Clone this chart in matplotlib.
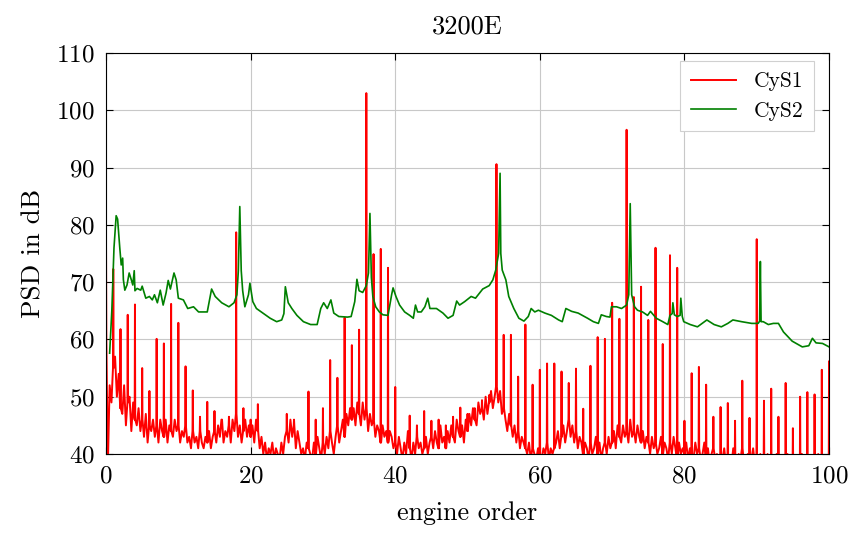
import numpy as np
import matplotlib
matplotlib.use("Agg")
from matplotlib import pyplot as plt

plt.rcParams['font.family'] = 'serif'
plt.rcParams['font.serif'] = ['cmr10']
plt.rcParams['mathtext.fontset'] = 'cm'
plt.rcParams['axes.formatter.use_mathtext'] = True

title = "3200E"
x_label = "engine order"
y_label = "PSD in dB"
names = ["CyS1", "CyS2"]

# CyS1: noise floor sampled every 0.25 orders (rows of 5 orders)
s1_step = 0.25
s1_floor = [
    60, 38, 52, 49, 55, 57, 50, 54, 48, 47, 52, 45, 49, 50, 44, 49, 46, 45, 48, 44,
    46, 43, 47, 42, 45, 44, 46, 43, 45, 42, 46, 44, 43, 46, 42, 45, 44, 43, 46, 44,
    45, 42, 44, 43, 45, 42, 43, 41, 44, 42, 43, 41, 44, 42, 41, 43, 42, 44, 41, 43,
    44, 42, 45, 43, 46, 42, 44, 43, 45, 42, 46, 44, 47, 43, 45, 42, 44, 46, 43, 45,
    43, 45, 42, 46, 44, 41, 43, 40, 42, 39, 41, 40, 42, 39, 41, 40, 39, 42, 40, 43,
    44, 42, 46, 43, 45, 41, 44, 42, 40, 41, 39, 42, 41, 40, 39, 42, 40, 43, 41, 39,
    42, 40, 43, 41, 44, 42, 40, 43, 45, 42, 44, 46, 43, 47, 45, 48, 46, 48, 45, 49,
    47, 45, 49, 46, 48, 44, 47, 45, 46, 43, 45, 44, 42, 45, 43, 44, 42, 44, 43, 41,
    42, 40, 43, 41, 39, 42, 40, 44, 41, 39, 42, 40, 43, 41, 42, 40, 41, 43, 40, 42,
    43, 41, 44, 42, 41, 45, 42, 43, 41, 44, 42, 45, 43, 42, 46, 44, 43, 45, 42, 46,
    44, 47, 45, 48, 46, 45, 49, 47, 48, 46, 50, 47, 49, 51, 48, 50, 52, 49, 51, 47,
    48, 46, 44, 47, 45, 43, 45, 42, 44, 41, 43, 42, 41, 40, 42, 39, 41, 40, 39, 41,
    40, 39, 41, 40, 42, 39, 41, 40, 41, 42, 44, 41, 43, 45, 42, 44, 46, 43, 45, 42,
    44, 41, 43, 42, 40, 42, 41, 39, 42, 40, 41, 43, 40, 42, 39, 41, 42, 40, 43, 41,
    42, 44, 41, 45, 43, 42, 45, 43, 44, 42, 46, 43, 44, 42, 45, 43, 42, 44, 41, 43,
    42, 40, 43, 41, 42, 40, 41, 43, 40, 42, 41, 39, 42, 40, 43, 41, 39, 42, 40, 41,
    40, 42, 39, 41, 40, 39, 42, 40, 41, 39, 40, 42, 39, 41, 38, 40, 41, 39, 40, 38,
    40, 39, 41, 38, 40, 39, 38, 41, 39, 38, 40, 39, 41, 38, 39, 40, 38, 39, 41, 38,
    39, 38, 40, 37, 39, 38, 40, 37, 38, 39, 37, 40, 38, 37, 39, 38, 37, 40, 38, 37,
    38, 37, 39, 38, 37, 40, 38, 37, 39, 38, 37, 39, 38, 37, 40, 38, 37, 39, 38, 37,
    38,
]

# CyS1: engine-order harmonic lines (order, peak dB)
s1_orders = [0, 1, 2, 3, 4, 5, 6, 7, 8, 9, 10, 11, 12, 13, 14, 15, 16, 17, 18, 19,
             20, 21, 25, 26, 28, 29, 30, 31, 32, 33, 34, 35, 36, 37, 38, 39, 40,
             42, 43, 44, 45, 46, 47, 48, 49, 50, 51, 52, 53, 54, 55, 56, 57, 58, 59,
             60, 61, 62, 63, 64, 65, 66, 67, 68, 69, 70, 71, 72, 73, 74, 75, 76, 77,
             78, 79, 80, 81, 82, 83, 84, 85, 86, 87, 88, 89, 90, 91, 92, 93, 94, 95,
             96, 97, 98, 99, 100]
s1_peaks = [76.0, 72.3, 61.8, 64.3, 66.1, 55.0, 51.0, 60.1, 59.3, 66.2, 62.9, 55.3,
            51.1, 46.5, 49.1, 47.5, 46.0, 46.5, 78.7, 48.0,
            46.0, 48.7, 47.0, 46.0, 50.9, 46.0, 48.0, 56.4, 53.3, 63.8, 59.0, 61.7,
            103.0, 74.9, 75.8, 72.5, 51.7,
            46.7, 45.0, 47.5, 45.8, 46.0, 45.0, 46.5, 48.1, 47.0, 48.0, 49.4, 50.3,
            90.6, 60.8, 60.8, 53.5, 62.6, 52.1,
            54.7, 55.8, 55.8, 54.4, 52.4, 54.9, 47.9, 55.4, 60.4, 60.1, 66.4, 63.6,
            96.6, 67.4, 69.2, 63.4, 76.0, 59.2,
            74.7, 72.5, 45.8, 54.1, 55.2, 52.1, 46.5, 48.2, 48.9, 45.8, 52.8, 46.3,
            77.5, 49.3, 51.4, 46.5, 52.4, 44.5,
            50.0, 50.8, 50.4, 54.7, 56.2]

# CyS2 (order, dB)
s2_x = [0.5, 0.8, 1.1, 1.4, 1.6, 1.9, 2.1, 2.3, 2.4, 2.6, 2.9, 3.2, 3.5, 3.7, 3.9,
        4.0, 4.3, 4.8, 5.0, 5.5, 6.0, 6.4, 6.7, 7.1, 7.5, 7.9, 8.3, 8.6, 8.9, 9.4,
        9.7, 10.0, 10.7, 11.3, 12.1, 12.8, 14.0, 14.6, 15.1, 16.0, 17.0, 17.7, 18.1,
        18.3, 18.5, 18.7, 18.9, 19.2, 19.7, 19.9, 20.3, 20.8, 21.7, 22.7, 23.6, 24.3,
        24.6, 24.8, 25.2, 25.7, 26.4, 27.3, 28.3, 29.2, 29.7, 30.1, 30.6, 31.1, 31.5,
        32.2, 33.4, 33.9, 34.4, 34.7, 35.0, 35.5, 36.0, 36.3, 36.5, 36.7, 36.9, 37.3,
        37.8, 38.3, 39.0, 39.5, 39.7, 40.1, 40.6, 41.3, 42.0, 42.5, 42.8, 43.1, 43.6,
        44.1, 44.5, 44.8, 45.7, 46.6, 47.3, 48.0, 48.5, 48.9, 49.6, 50.5, 51.1, 52.1,
        53.0, 53.5, 53.9, 54.3, 54.5, 54.6, 54.8, 55.3, 55.7, 56.4, 57.1, 57.8, 58.4,
        58.8, 59.3, 59.8, 60.7, 61.6, 62.6, 63.1, 63.6, 64.4, 65.3, 66.6, 67.4, 68.1,
        68.5, 69.2, 69.7, 69.9, 70.6, 71.3, 72.0, 72.3, 72.5, 72.7, 73.1, 73.5, 74.2,
        74.9, 75.3, 76.1, 77.0, 77.7, 78.0, 78.3, 78.4, 78.6, 79.0, 79.4, 79.5, 79.7,
        79.9, 80.8, 81.8, 83.1, 84.1, 85.1, 86.0, 86.7, 87.9, 89.3, 90.2, 90.4, 90.5,
        90.6, 90.9, 91.6, 92.3, 93.0, 93.7, 94.9, 96.3, 97.2, 97.7, 98.2, 99.1, 100.0]
s2_y = [57.6, 65.0, 76.0, 81.6, 81.0, 76.0, 73.0, 74.2, 70.4, 68.6, 69.5, 71.6, 70.4,
        69.5, 72.0, 68.5, 68.9, 68.6, 69.3, 67.2, 67.5, 66.9, 67.8, 66.4, 68.6, 66.0,
        68.1, 70.3, 68.8, 71.6, 70.4, 67.2, 66.9, 65.4, 65.7, 64.8, 64.8, 68.8, 67.5,
        66.4, 65.7, 66.4, 67.8, 72.0, 83.2, 72.0, 68.5, 65.7, 67.8, 69.8, 66.6, 65.4,
        64.6, 63.7, 63.1, 63.4, 64.5, 69.2, 66.4, 65.4, 64.2, 63.1, 62.6, 62.6, 65.4,
        66.4, 65.4, 66.9, 64.6, 64.0, 63.9, 64.0, 66.6, 70.5, 68.5, 68.2, 69.4, 71.6,
        82.0, 70.8, 67.5, 65.7, 64.8, 64.3, 64.2, 67.8, 69.0, 67.5, 66.0, 64.8, 64.2,
        63.7, 66.0, 64.8, 64.8, 65.7, 67.2, 65.4, 65.4, 64.6, 63.7, 64.2, 66.7, 66.0,
        66.6, 67.5, 67.2, 68.8, 69.4, 70.4, 72.1, 75.0, 89.0, 75.0, 72.1, 70.4, 67.5,
        65.4, 63.7, 63.2, 64.0, 65.4, 64.8, 65.1, 64.6, 64.2, 63.4, 63.1, 65.4, 64.9,
        64.6, 63.7, 63.1, 62.8, 64.3, 64.0, 63.9, 65.7, 65.7, 65.4, 66.0, 67.8, 83.7,
        67.8, 65.7, 65.1, 64.8, 64.2, 64.9, 63.7, 63.1, 62.6, 64.2, 64.5, 66.4, 64.3,
        64.0, 64.2, 67.2, 64.0, 63.1, 62.6, 62.2, 63.4, 62.6, 62.2, 62.8, 63.4, 63.1,
        62.8, 62.8, 63.2, 73.6, 63.1, 63.1, 62.6, 62.8, 62.8, 61.3, 59.7, 58.7, 58.9,
        60.2, 59.4, 59.3, 58.7]

x_ticks = [0, 20, 40, 60, 80, 100]
y_ticks = [40, 50, 60, 70, 80, 90, 100, 110]

# merge harmonic peaks into the floor as thin lines
peaks = dict(zip(s1_orders, s1_peaks))
s1_x, s1_y = [], []
for i, f in enumerate(s1_floor):
    xi = i * s1_step
    if xi == int(xi) and int(xi) in peaks:
        for dx, v in ((-0.04, f), (0.0, peaks[int(xi)]), (0.04, f)):
            s1_x.append(xi + dx)
            s1_y.append(v)
    else:
        s1_x.append(xi)
        s1_y.append(f)

fig = plt.figure(figsize=(8.51, 5.35), dpi=100)
ax = fig.add_axes([0.1246, 0.1514, 0.8496, 0.7495])
ax.plot(s1_x, s1_y, color='#ff0000', lw=1.4, label=names[0])
ax.plot(s2_x, s2_y, color='#008000', lw=1.2, label=names[1])

ax.set_xlim(0, 100)
ax.set_ylim(40, 110)
ax.set_xticks(x_ticks)
ax.set_yticks(y_ticks)
ax.grid(True, color='#c8c8c8', lw=0.8)
ax.set_axisbelow(True)
ax.tick_params(direction='in', top=True, right=True, length=5, width=0.8,
               labelsize=18, pad=8)
for s in ax.spines.values():
    s.set_linewidth(0.8)

ax.set_title(title, fontsize=19, pad=14)
ax.set_xlabel(x_label, fontsize=18.7, labelpad=10)
ax.set_ylabel(y_label, fontsize=19.5, labelpad=8)

leg = ax.legend(loc='upper right', fontsize=15.5, fancybox=False, framealpha=1,
                edgecolor='#d0d0d0', handlelength=2.1, borderpad=0.5,
                borderaxespad=0, labelspacing=0.45,
                bbox_to_anchor=(0.979, 0.98))
leg.get_frame().set_linewidth(0.8)

fig.savefig("out.png", dpi=100)
